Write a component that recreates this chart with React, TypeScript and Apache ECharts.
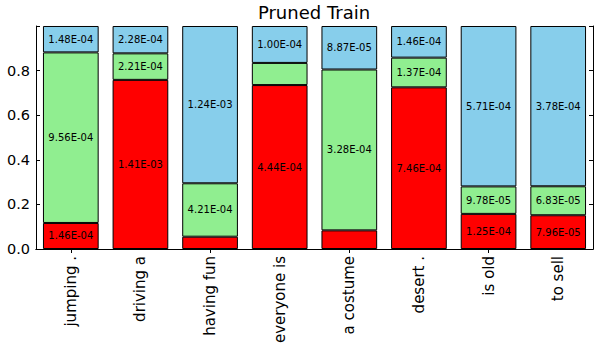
import React, { useEffect, useRef } from "react";
import * as echarts from "echarts";

const categories = ["jumping .", "driving a", "having fun", "everyone is", "a costume", "desert .", "is old", "to sell"];
const redValues = [1.46e-4, 1.41e-3, 9.7e-5, 4.44e-4, 3.8e-5, 7.46e-4, 1.25e-4, 7.96e-5];
const greenValues = [9.56e-4, 2.21e-4, 4.21e-4, 6.0e-5, 3.28e-4, 1.37e-4, 9.78e-5, 6.83e-5];
const blueValues = [1.48e-4, 2.28e-4, 1.24e-3, 1.0e-4, 8.87e-5, 1.46e-4, 5.71e-4, 3.78e-4];
const yTicks = [0, 0.2, 0.4, 0.6, 0.8];
const titleText = "Pruned Train";

const FONT = "DejaVu Sans";

function fmtExp(v: number): string {
  const s = v.toExponential(2);
  const [m, e] = s.split("e");
  const sign = e[0] === "-" ? "-" : "+";
  const digits = e.replace(/[+-]/, "").padStart(2, "0");
  return m + "E" + sign + digits;
}

export default function App() {
  const ref = useRef<HTMLDivElement>(null);
  useEffect(() => {
    if (!ref.current) return;
    const chart = echarts.init(ref.current, null, { renderer: "svg" });
    const totals = categories.map((_, i) => redValues[i] + greenValues[i] + blueValues[i]);
    const mk = (vals: number[], color: string, name: string) => ({
      name,
      type: "bar",
      stack: "total",
      barWidth: "80%",
      itemStyle: { color, borderColor: "#000", borderWidth: 1 },
      label: {
        position: "inside",
        color: "#000",
        fontFamily: FONT,
        fontSize: 10,
        formatter: (p: any) => fmtExp(vals[p.dataIndex]),
      },
      data: vals.map((v, i) => {
        const f = v / totals[i];
        return { value: f, label: { show: f >= 0.1 } };
      }),
    });
    chart.setOption({
      animation: false,
      graphic: [
        {
          type: "text",
          x: 314,
          y: 21,
          style: {
            text: titleText,
            fontFamily: FONT,
            fontSize: 18,
            fill: "#000",
            textAlign: "center",
            textVerticalAlign: "bottom",
          },
        },
      ],
      grid: { left: 36, right: 7, top: 26, bottom: 99, containLabel: false },
      xAxis: [
        {
          type: "category",
          data: categories,
          position: "bottom",
          axisLine: { show: true, lineStyle: { color: "#000", width: 1 } },
          axisTick: { show: true, inside: true, length: 4, alignWithLabel: true, lineStyle: { color: "#000" } },
          axisLabel: { rotate: 90, margin: 7, fontFamily: FONT, fontSize: 15, color: "#000" },
        },
        {
          type: "category",
          data: categories,
          position: "top",
          axisLine: { show: true, lineStyle: { color: "#000", width: 1 } },
          axisTick: { show: true, inside: true, length: 4, alignWithLabel: true, lineStyle: { color: "#000" } },
          axisLabel: { show: false },
        },
      ],
      yAxis: [
        {
          type: "value",
          min: 0,
          max: 1,
          interval: 0.2,
          position: "left",
          splitLine: { show: false },
          axisLine: { show: true, lineStyle: { color: "#000", width: 1 } },
          axisTick: { show: true, inside: true, length: 4, lineStyle: { color: "#000" } },
          axisLabel: {
            margin: 6,
            fontFamily: FONT,
            fontSize: 14.5,
            color: "#000",
            formatter: (v: number) => (yTicks.some((t) => Math.abs(t - v) < 1e-9) ? v.toFixed(1) : ""),
          },
        },
        {
          type: "value",
          min: 0,
          max: 1,
          interval: 0.2,
          position: "right",
          splitLine: { show: false },
          axisLine: { show: true, lineStyle: { color: "#000", width: 1 } },
          axisTick: { show: true, inside: true, length: 4, lineStyle: { color: "#000" } },
          axisLabel: { show: false },
        },
      ],
      series: [
        mk(redValues, "#ff0000", "red"),
        mk(greenValues, "#90ee90", "green"),
        mk(blueValues, "#87ceeb", "blue"),
      ],
    });
    return () => chart.dispose();
  }, []);
  return <div ref={ref} style={{ width: 600, height: 348, position: "absolute", left: 0, top: 0 }} />;
}
